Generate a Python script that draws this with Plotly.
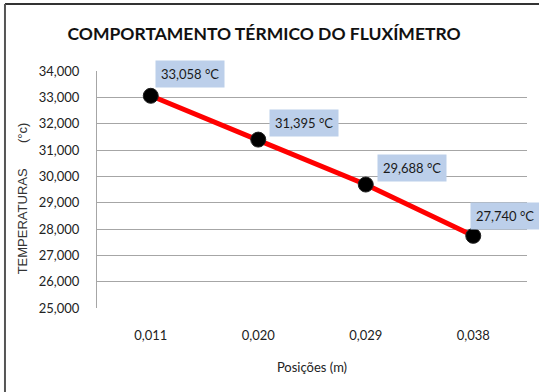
import plotly.graph_objects as go

# Sensor positions along the heat-flux meter (m) and measured temperatures (°C)
posicoes = [0.011, 0.020, 0.029, 0.038]
temperaturas = [33.058, 31.395, 29.688, 27.740]
y_ticks = [25, 26, 27, 28, 29, 30, 31, 32, 33, 34]

# Pixel offsets of each value label relative to its point
label_dx = [4, 11, 11, -3]
label_dy = [8, 3, 3, 6]


def br(v, nd):
    """Brazilian decimal formatting (comma as decimal separator)."""
    return f"{v:.{nd}f}".replace(".", ",")


categorias = [br(p, 3) for p in posicoes]

FONT = "Lato, sans-serif"
NBSP = "&nbsp;"

fig = go.Figure()
fig.add_trace(go.Scatter(
    x=categorias,
    y=temperaturas,
    mode="lines+markers",
    line=dict(color="#ff0000", width=5),
    marker=dict(color="#000000", size=15, line=dict(color="#222222", width=1)),
    hoverinfo="skip",
    showlegend=False,
))

# Value labels in light-blue boxes, up and to the right of each point
for c, t, dx, dy in zip(categorias, temperaturas, label_dx, label_dy):
    fig.add_annotation(
        x=c, y=t, xref="x", yref="y",
        text=f"{br(t, 3)} °C",
        showarrow=False,
        xanchor="left", yanchor="bottom",
        xshift=dx, yshift=dy,
        bgcolor="#bccfea",
        borderpad=5,
        font=dict(family=FONT, size=13, color="#1a1a1a"),
    )

# Outer frame lines (top and left)
fig.add_shape(type="line", xref="paper", yref="paper",
              x0=-0.214, x1=1.05, y0=1.283, y1=1.283,
              line=dict(color="#333333", width=2))
fig.add_shape(type="line", xref="paper", yref="paper",
              x0=-0.214, x1=-0.214, y0=1.283, y1=-0.4,
              line=dict(color="#555555", width=2))

fig.update_layout(
    width=539, height=392,
    margin=dict(l=97, r=12, t=71, b=84),
    paper_bgcolor="white",
    plot_bgcolor="white",
    separators=",.",
    title=dict(
        text="<b>COMPORTAMENTO TÉRMICO DO FLUXÍMETRO</b>",
        x=0.49, xanchor="center", y=0.913, yanchor="middle",
        font=dict(family=FONT, size=17.5, color="#111111"),
    ),
    xaxis=dict(
        type="category",
        range=[-0.5, 3.5],
        showgrid=False,
        showline=False,
        ticks="",
        ticklabelstandoff=18,
        tickfont=dict(family=FONT, size=13, color="#222222"),
        title=dict(text="Posições (m)", standoff=20,
                   font=dict(family=FONT, size=13, color="#222222")),
    ),
    yaxis=dict(
        range=[25, 34],
        tickvals=y_ticks,
        tickformat=".3f",
        showgrid=True,
        gridcolor="#a6a6a6",
        gridwidth=1,
        zeroline=False,
        showline=True,
        linecolor="#a6a6a6",
        linewidth=1,
        ticks="",
        ticklabelstandoff=14,
        tickfont=dict(family=FONT, size=13, color="#222222"),
        title=dict(text="TEMPERATURAS" + NBSP * 7 + "(°c)" + NBSP * 5, standoff=8,
                   font=dict(family="Liberation Sans, Arial, sans-serif", size=13, color="#333333")),
    ),
)

fig.write_html("out.html")
